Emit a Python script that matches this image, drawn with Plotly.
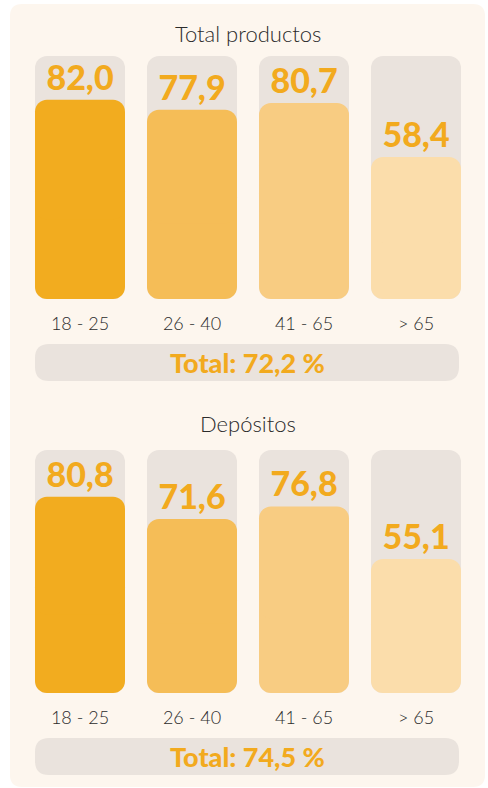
import plotly.graph_objects as go

# ---------------- data ----------------
categories = ["18 - 25", "26 - 40", "41 - 65", "> 65"]
panel_titles = ["Total productos", "Depósitos"]
total_productos = [82.0, 77.9, 80.7, 58.4]
depositos = [80.8, 71.6, 76.8, 55.1]
totals = [72.2, 74.5]
full_scale = [100, 100, 100, 100]

# ---------------- style ----------------
W, H = 488, 788
PANEL_BG = "#FDF6EE"
TRACK = "#EAE3DD"
ORANGE = "#F2AA1E"
BAR_COLORS = ["#F2AC1F", "#F5BD57", "#F8CC82", "#FBDDAB"]
TXT = "#2B2B2B"
BOLD_FONT = "Lato"
LIGHT_FONT = "Lato"
STEP = 112
BAR_W = 90 / STEP
RADIUS = 12


def fmt(v):
    return f"{v:.1f}".replace(".", ",")


def px_x(p):
    return p / W


def px_y(p):
    return 1 - p / H


def rounded_rect(x0, y0, x1, y1, r):
    """path in paper coordinates, given pixel box (y down)."""
    rx, ry = r / W, r / H
    X0, X1 = px_x(x0), px_x(x1)
    Yt, Yb = px_y(y0), px_y(y1)
    return (f"M {X0+rx},{Yt} L {X1-rx},{Yt} Q {X1},{Yt} {X1},{Yt-ry} "
            f"L {X1},{Yb+ry} Q {X1},{Yb} {X1-rx},{Yb} "
            f"L {X0+rx},{Yb} Q {X0},{Yb} {X0},{Yb+ry} "
            f"L {X0},{Yt-ry} Q {X0},{Yt} {X0+rx},{Yt} Z")


series = [total_productos, depositos]
y_px = [(299, 56), (693, 450)]          # bottom, top of the 0..100 scale (pixels)
pill_px = [(344, 381), (738, 775)]
title_px = [33, 423]
x_dom = (24, 24 + 4 * STEP)

fig = go.Figure()


def add_rounded_bars(vals, colors, xa, ya, text=None):
    low_base = [0.6 * v for v in vals]
    low_len = [-0.6 * v for v in vals]
    hi_base = [0.4 * v for v in vals]
    hi_len = [0.6 * v for v in vals]
    fig.add_trace(go.Bar(x=categories, y=low_len, base=low_base, width=BAR_W,
                         marker=dict(color=colors, line=dict(width=0)),
                         xaxis=xa, yaxis=ya, hoverinfo="skip", showlegend=False))
    kw = {}
    if text is not None:
        kw = dict(text=text, textposition="outside", cliponaxis=False,
                  textfont=dict(family=BOLD_FONT, size=34, color=ORANGE, weight=900),
                  constraintext="none")
    fig.add_trace(go.Bar(x=categories, y=hi_len, base=hi_base, width=BAR_W,
                         marker=dict(color=colors, line=dict(width=0)),
                         xaxis=xa, yaxis=ya, hoverinfo="skip", showlegend=False, **kw))


for k, vals in enumerate(series):
    xa = "x" if k == 0 else "x2"
    ya = "y" if k == 0 else "y2"
    add_rounded_bars(full_scale, [TRACK] * 4, xa, ya)
    add_rounded_bars(vals, BAR_COLORS, xa, ya, text=[fmt(v) for v in vals])

shapes = [dict(type="path", xref="paper", yref="paper", layer="below",
               path=rounded_rect(10, 4, 485, 787, 12),
               fillcolor=PANEL_BG, line=dict(width=0))]
annotations = []
for k in range(2):
    t, b = pill_px[k]
    shapes.append(dict(type="path", xref="paper", yref="paper", layer="below",
                       path=rounded_rect(35, t, 459, b, 14),
                       fillcolor=TRACK, line=dict(width=0)))
    annotations.append(dict(x=px_x(247), y=px_y((t + b) / 2), xref="paper", yref="paper",
                            text=f"Total: {fmt(totals[k])} %", showarrow=False,
                            font=dict(family=BOLD_FONT, size=27, color=ORANGE, weight=900),
                            xanchor="center", yanchor="middle"))
    annotations.append(dict(x=px_x(247.5), y=px_y(title_px[k]), xref="paper", yref="paper",
                            text=panel_titles[k], showarrow=False,
                            font=dict(family=LIGHT_FONT, size=22, color=TXT, weight=300),
                            xanchor="center", yanchor="middle"))

axis_x = dict(domain=[px_x(x_dom[0]), px_x(x_dom[1])], type="category",
              categoryorder="array", categoryarray=categories,
              showgrid=False, zeroline=False, showline=False, ticks="",
              tickfont=dict(family=LIGHT_FONT, size=18, color=TXT, weight=300),
              ticklabelstandoff=12, fixedrange=True)
axis_y = dict(range=[0, 100], visible=False, showgrid=False, zeroline=False, fixedrange=True)

fig.update_layout(
    width=W, height=H,
    margin=dict(l=0, r=0, t=0, b=0),
    paper_bgcolor="white", plot_bgcolor="rgba(0,0,0,0)",
    barmode="overlay", barcornerradius=RADIUS,
    showlegend=False,
    xaxis=dict(axis_x, anchor="y"),
    yaxis=dict(axis_y, anchor="x", domain=[px_y(y_px[0][0]), px_y(y_px[0][1])]),
    xaxis2=dict(axis_x, anchor="y2"),
    yaxis2=dict(axis_y, anchor="x2", domain=[px_y(y_px[1][0]), px_y(y_px[1][1])]),
    shapes=shapes, annotations=annotations,
)

fig.write_html("out.html", config={"displayModeBar": False},
               post_script="document.body.style.margin='0';")
